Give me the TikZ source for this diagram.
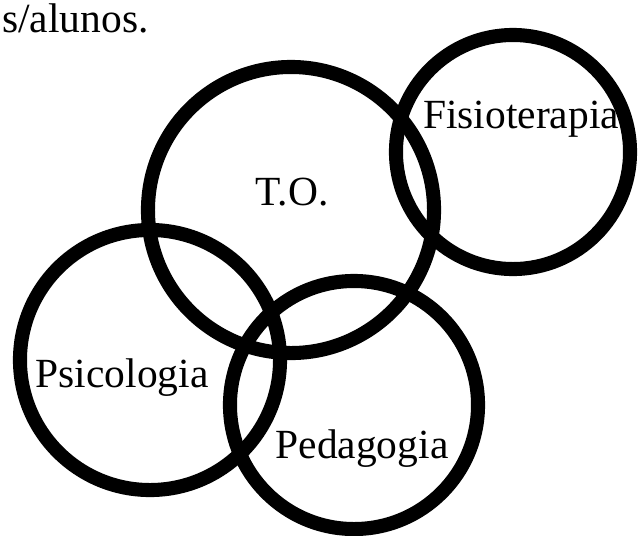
\documentclass[tikz,border=0pt]{standalone}
\usepackage{fontspec}
\setmainfont{Liberation Serif}
\tikzset{
  ring/.style={circle, draw, line width=10pt, inner sep=0pt, minimum size=#1},
  areatext/.style={font=\fontsize{29.5}{32}\selectfont, anchor=base, inner sep=0pt}
}
\begin{document}
\begin{tikzpicture}[x=0.025cm, y=-0.025cm]
        \useasboundingbox (0,0) rectangle (640,535);
        % texto de arriba
        \node[areatext, anchor=base west] (frase) at (2,32) {s/alunos.};
        % circulos
        \node[ring=7.15cm] (to) at (291,210) {};
        \node[ring=5.85cm] (fisio) at (513,152) {};
        \node[ring=6.5cm] (psico) at (150,360) {};
        \node[ring=6.2cm] (pedag) at (354,405) {};
        % nombres de las areas
        \node[areatext] (totxt) at (292,205) {T.O.};
        \node[areatext] (fisiotxt) at (521,128) {Fisioterapia};
        \node[areatext] (psicotxt) at (122,387) {Psicologia};
        \node[areatext] (pedagtxt) at (362,458) {Pedagogia};
    \end{tikzpicture}
\end{document}
